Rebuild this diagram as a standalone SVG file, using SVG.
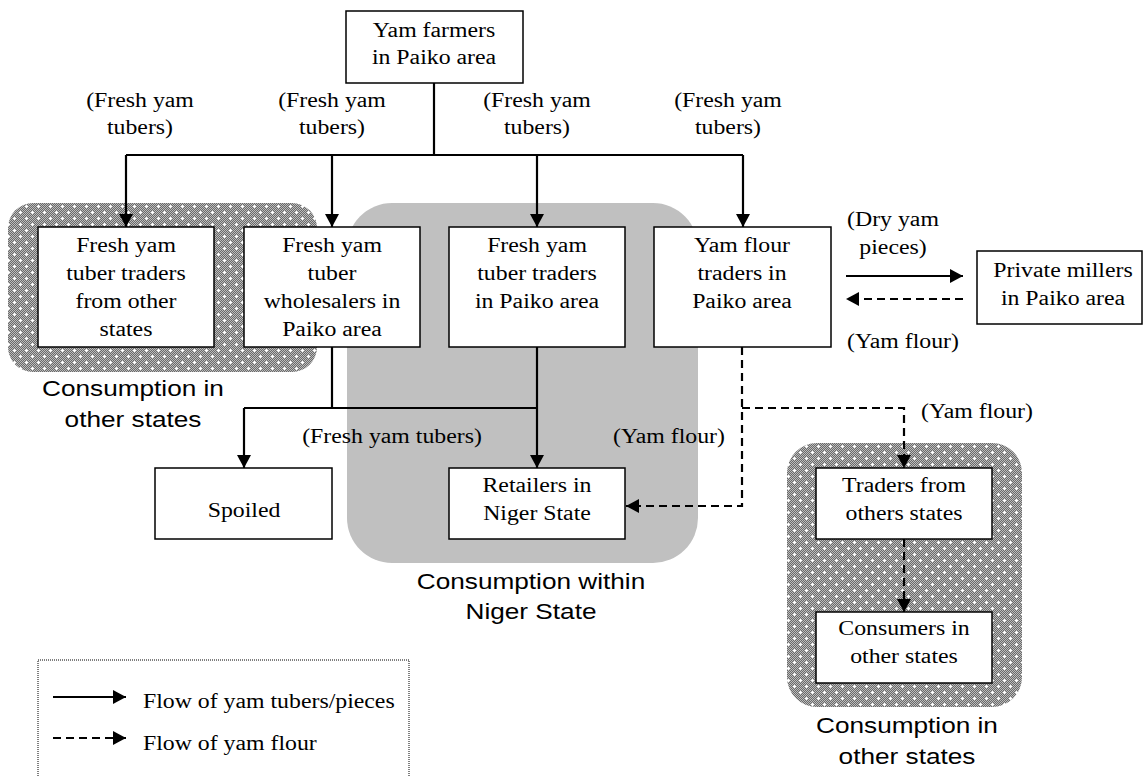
<svg xmlns="http://www.w3.org/2000/svg" width="1144" height="776" viewBox="0 0 1144 776">
  <style>
    .box { fill: #fff; stroke: #000; stroke-width: 1.5; }
    .flow { fill: none; stroke: #000; stroke-width: 2.2; }
    .flour { fill: none; stroke: #000; stroke-width: 2.2; stroke-dasharray: 8 5; }
    .serif { font-family: "Liberation Serif", "Times New Roman", serif; font-size: 20px; fill: #000; text-anchor: middle; }
    .serif.left { text-anchor: start; }
    .sans { font-family: "Liberation Sans", Arial, sans-serif; font-size: 22px; fill: #000; text-anchor: middle; }
  </style>
  <defs>
    <marker id="head" markerUnits="userSpaceOnUse" markerWidth="13" markerHeight="14" refX="13" refY="7" orient="auto">
      <path d="M0,0 L13,7 L0,14 z" fill="#000"/>
    </marker>
    <!-- fine two-tone checker used as the stipple base -->
    <pattern id="chk" width="2" height="2" patternUnits="userSpaceOnUse">
      <rect width="2" height="2" fill="#6a6a6a"/>
      <rect width="1" height="1" fill="#bcbcbc"/>
      <rect x="1" y="1" width="1" height="1" fill="#bcbcbc"/>
    </pattern>
    <!-- stipple with scattered white crosses -->
    <pattern id="stipple" width="12" height="12" patternUnits="userSpaceOnUse">
      <rect width="12" height="12" fill="url(#chk)"/>
      <rect x="1" y="2" width="3" height="1" fill="#fff"/>
      <rect x="2" y="1" width="1" height="3" fill="#fff"/>
      <rect x="7" y="8" width="3" height="1" fill="#fff"/>
      <rect x="8" y="7" width="1" height="3" fill="#fff"/>
    </pattern>
  </defs>

  <!-- consumption zones -->
  <g id="zones">
    <rect id="zone-other-left" x="8" y="203" width="309" height="169" rx="25" fill="url(#stipple)"/>
    <rect id="zone-niger" x="347" y="203" width="351" height="360" rx="45" fill="#c0c0c0"/>
    <rect id="zone-other-right" x="787" y="443" width="235" height="264" rx="30" fill="url(#stipple)"/>
  </g>

  <!-- connectors -->
  <g id="connectors">
    <path class="flow" d="M434,83 V155 M126,155 H743"/>
    <path class="flow" d="M126,155 V227" marker-end="url(#head)"/>
    <path class="flow" d="M332,155 V227" marker-end="url(#head)"/>
    <path class="flow" d="M537,155 V227" marker-end="url(#head)"/>
    <path class="flow" d="M743,155 V227" marker-end="url(#head)"/>
    <path class="flow" d="M332,347 V408 M244,408 H537"/>
    <path class="flow" d="M244,408 V468" marker-end="url(#head)"/>
    <path class="flow" d="M537,347 V468" marker-end="url(#head)"/>
    <path class="flow" d="M846,276 H963" marker-end="url(#head)"/>
    <path class="flour" d="M963,299 H846" marker-end="url(#head)"/>
    <path class="flour" d="M742,347 V506 H626" marker-end="url(#head)"/>
    <path class="flour" d="M742,408 H904 V468" marker-end="url(#head)"/>
    <path class="flour" d="M904,539 V612" marker-end="url(#head)"/>
  </g>

  <!-- nodes -->
  <g id="farmers">
    <rect class="box" x="346" y="11" width="177" height="72"/>
    <g transform="translate(434 0) scale(1.19 1)"><text class="serif" y="37"><tspan x="0">Yam farmers</tspan><tspan x="0" dy="27">in Paiko area</tspan></text></g>
  </g>
  <g id="traders-other-states">
    <rect class="box" x="38" y="227" width="176" height="120"/>
    <g transform="translate(126 0) scale(1.19 1)"><text class="serif" y="252"><tspan x="0">Fresh yam</tspan><tspan x="0" dy="28">tuber traders</tspan><tspan x="0" dy="28">from other</tspan><tspan x="0" dy="28">states</tspan></text></g>
  </g>
  <g id="wholesalers">
    <rect class="box" x="244" y="227" width="176" height="120"/>
    <g transform="translate(332 0) scale(1.19 1)"><text class="serif" y="252"><tspan x="0">Fresh yam</tspan><tspan x="0" dy="28">tuber</tspan><tspan x="0" dy="28">wholesalers in</tspan><tspan x="0" dy="28">Paiko area</tspan></text></g>
  </g>
  <g id="traders-paiko">
    <rect class="box" x="449" y="227" width="176" height="120"/>
    <g transform="translate(537 0) scale(1.19 1)"><text class="serif" y="252"><tspan x="0">Fresh yam</tspan><tspan x="0" dy="28">tuber traders</tspan><tspan x="0" dy="28">in Paiko area</tspan></text></g>
  </g>
  <g id="flour-traders">
    <rect class="box" x="654" y="227" width="177" height="120"/>
    <g transform="translate(742 0) scale(1.19 1)"><text class="serif" y="252"><tspan x="0">Yam flour</tspan><tspan x="0" dy="28">traders in</tspan><tspan x="0" dy="28">Paiko area</tspan></text></g>
  </g>
  <g id="millers">
    <rect class="box" x="977" y="251" width="165" height="73"/>
    <g transform="translate(1063 0) scale(1.19 1)"><text class="serif" y="277"><tspan x="0">Private millers</tspan><tspan x="0" dy="28">in Paiko area</tspan></text></g>
  </g>
  <g id="spoiled">
    <rect class="box" x="155" y="468" width="177" height="71"/>
    <g transform="translate(244 0) scale(1.19 1)"><text class="serif" x="0" y="517">Spoiled</text></g>
  </g>
  <g id="retailers">
    <rect class="box" x="449" y="468" width="176" height="71"/>
    <g transform="translate(537 0) scale(1.19 1)"><text class="serif" y="492"><tspan x="0">Retailers in</tspan><tspan x="0" dy="28">Niger State</tspan></text></g>
  </g>
  <g id="traders-from-other-states">
    <rect class="box" x="816" y="468" width="176" height="71"/>
    <g transform="translate(904 0) scale(1.19 1)"><text class="serif" y="492"><tspan x="0">Traders from</tspan><tspan x="0" dy="28">others states</tspan></text></g>
  </g>
  <g id="consumers">
    <rect class="box" x="816" y="612" width="176" height="71"/>
    <g transform="translate(904 0) scale(1.19 1)"><text class="serif" y="635"><tspan x="0">Consumers in</tspan><tspan x="0" dy="28">other states</tspan></text></g>
  </g>

  <!-- flow labels -->
  <g id="flow-labels">
    <g transform="translate(140 0) scale(1.19 1)"><text class="serif" y="107"><tspan x="0">(Fresh yam</tspan><tspan x="0" dy="27">tubers)</tspan></text></g>
    <g transform="translate(332 0) scale(1.19 1)"><text class="serif" y="107"><tspan x="0">(Fresh yam</tspan><tspan x="0" dy="27">tubers)</tspan></text></g>
    <g transform="translate(537 0) scale(1.19 1)"><text class="serif" y="107"><tspan x="0">(Fresh yam</tspan><tspan x="0" dy="27">tubers)</tspan></text></g>
    <g transform="translate(728 0) scale(1.19 1)"><text class="serif" y="107"><tspan x="0">(Fresh yam</tspan><tspan x="0" dy="27">tubers)</tspan></text></g>
    <g transform="translate(893 0) scale(1.19 1)"><text class="serif" y="226"><tspan x="0">(Dry yam</tspan><tspan x="0" dy="28">pieces)</tspan></text></g>
    <g transform="translate(903 0) scale(1.19 1)"><text class="serif" x="0" y="348">(Yam flour)</text></g>
    <g transform="translate(977 0) scale(1.19 1)"><text class="serif" x="0" y="418">(Yam flour)</text></g>
    <g transform="translate(392 0) scale(1.19 1)"><text class="serif" x="0" y="443">(Fresh yam tubers)</text></g>
    <g transform="translate(669 0) scale(1.19 1)"><text class="serif" x="0" y="443">(Yam flour)</text></g>
  </g>

  <!-- zone captions -->
  <g id="zone-labels">
    <g transform="translate(133 0) scale(1.19 1)"><text class="sans" y="396"><tspan x="0">Consumption in</tspan><tspan x="0" dy="31">other states</tspan></text></g>
    <g transform="translate(531 0) scale(1.19 1)"><text class="sans" y="589"><tspan x="0">Consumption within</tspan><tspan x="0" dy="30">Niger State</tspan></text></g>
    <g transform="translate(907 0) scale(1.19 1)"><text class="sans" y="733"><tspan x="0">Consumption in</tspan><tspan x="0" dy="31">other states</tspan></text></g>
  </g>

  <!-- legend -->
  <g id="legend">
    <rect x="38" y="660" width="371" height="130" fill="none" stroke="#000" stroke-width="1" stroke-dasharray="1 1"/>
    <path class="flow" d="M53,697 H126" marker-end="url(#head)"/>
    <path class="flour" d="M53,738 H126" marker-end="url(#head)"/>
    <g transform="translate(143 0) scale(1.19 1)"><text class="serif left" x="0" y="708">Flow of yam tubers/pieces</text></g>
    <g transform="translate(143 0) scale(1.19 1)"><text class="serif left" x="0" y="750">Flow of yam flour</text></g>
  </g>
</svg>
